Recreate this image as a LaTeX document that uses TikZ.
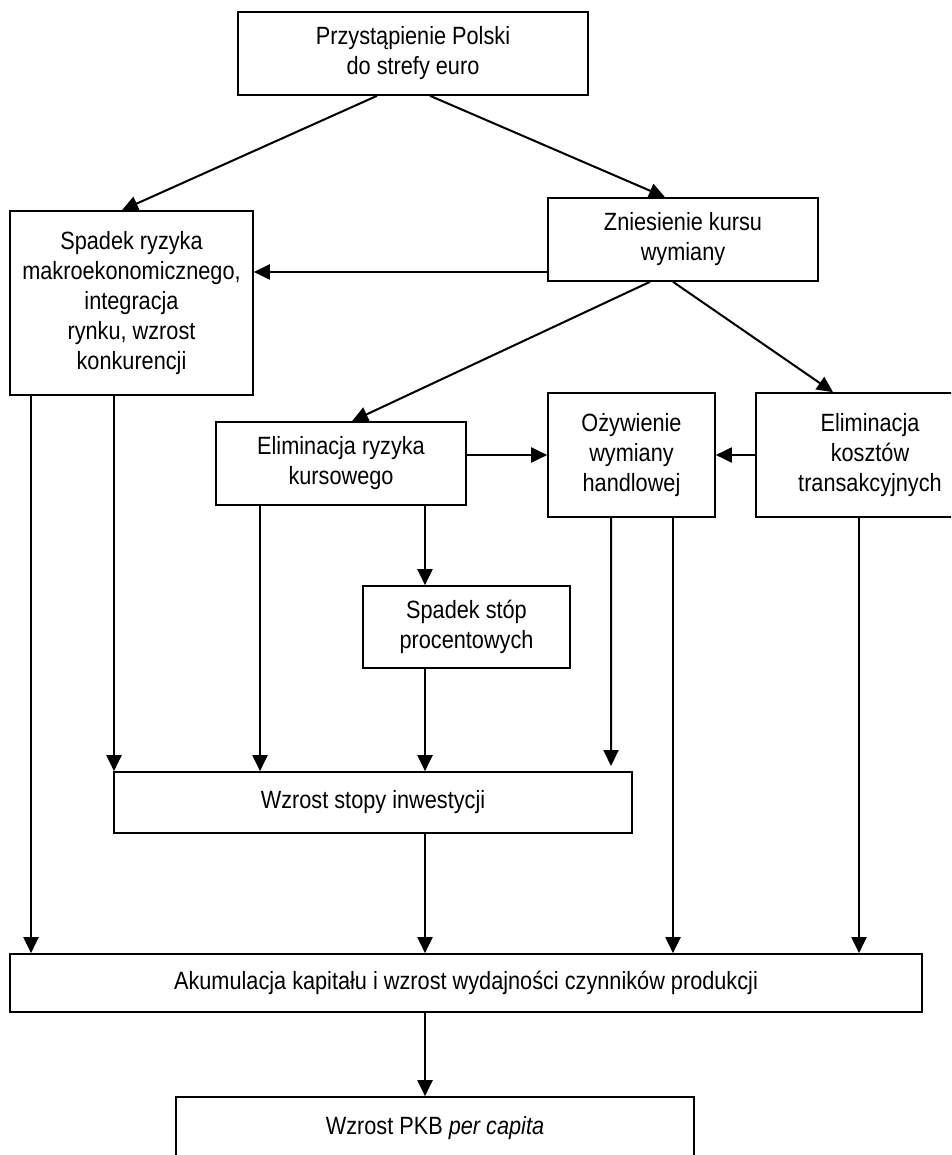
\documentclass[tikz,border=0pt]{standalone}
\usepackage{fontspec}
\setmainfont{Liberation Sans}[FakeStretch=0.87]
\usetikzlibrary{arrows.meta}
\begin{document}
\begin{tikzpicture}[x=0.02cm,y=-0.02cm,
  box/.style={draw, line width=0.95pt, align=center, inner sep=0pt,
    font=\fontsize{14.2pt}{17.1pt}\selectfont},
  arr/.style={line width=1.15pt, -{Triangle[length=0.32cm,width=0.3cm]}}]
\useasboundingbox (0,0) rectangle (951,1155);
\fill[white] (0,0) rectangle (951,1155);
\clip (0,0) rectangle (951,1155);
% nodes
\node[box, minimum width=7.0cm, minimum height=1.66cm] (T) at (413,53.5) {Przystąpienie Polski\\do strefy euro};
\node[box, minimum width=4.86cm, minimum height=3.68cm] (L) at (131.5,303) {Spadek ryzyka\\makroekonomicznego,\\integracja\\rynku, wzrost\\konkurencji};
\node[box, minimum width=5.4cm, minimum height=1.66cm] (Z) at (683,239.5) {Zniesienie kursu\\wymiany};
\node[box, minimum width=5.0cm, minimum height=1.66cm] (E1) at (341,463.5) {Eliminacja ryzyka\\kursowego};
\node[box, minimum width=3.34cm, minimum height=2.48cm] (O) at (631.5,455) {Ożywienie\\wymiany\\handlowej};
\node[box, minimum width=4.56cm, minimum height=2.48cm] (E2) at (870,455) {Eliminacja\\kosztów\\transakcyjnych};
\node[box, minimum width=4.14cm, minimum height=1.64cm] (S) at (466.5,627) {Spadek stóp\\procentowych};
\node[box, minimum width=10.36cm, minimum height=1.22cm] (W) at (373,802.5) {Wzrost stopy inwestycji};
\node[box, minimum width=18.24cm, minimum height=1.16cm] (A) at (466,983) {Akumulacja kapitału i wzrost wydajności czynników produkcji};
\node[box, minimum width=10.36cm, minimum height=1.26cm] (B) at (435,1128.5) {Wzrost PKB \textit{per capita}};
\coordinate (oend) at (611,766);
% connectors
\draw[arr] ([xshift=-0.72cm]T.south) -- ([xshift=-0.19cm]L.north);
\draw[arr] ([xshift=0.34cm]T.south) -- ([xshift=-0.36cm]Z.north);
\draw[arr] ([yshift=-0.65cm]Z.west) -- ([yshift=-0.65cm]Z.west -| L.east);
\draw[arr] ([xshift=-0.66cm]Z.south) -- ([xshift=0.22cm]E1.north);
\draw[arr] ([xshift=-0.2cm]Z.south) -- ([xshift=-0.74cm]E2.north);
\draw[arr] (O.west -| E1.east) -- (O.west);
\draw[arr] (E2.west) -- (O.east);
\draw[arr] ([xshift=-1.62cm]E1.south) -- ([xshift=-1.62cm]E1.south |- W.north);
\draw[arr] ([xshift=1.68cm]E1.south) -- ([xshift=1.68cm]E1.south |- S.north);
\draw[arr] ([xshift=-0.83cm]S.south) -- ([xshift=-0.83cm]S.south |- W.north);
\draw[arr] ([xshift=-0.35cm]L.south) -- ([xshift=-0.35cm]L.south |- W.north);
\draw[arr] ([xshift=-2.01cm]L.south) -- ([xshift=-2.01cm]L.south |- A.north);
\draw[arr] ([xshift=-0.41cm]O.south) -- (oend);
\draw[arr] ([xshift=0.83cm]O.south) -- ([xshift=0.83cm]O.south |- A.north);
\draw[arr] ([xshift=-0.22cm]E2.south) -- ([xshift=-0.22cm]E2.south |- A.north);
\draw[arr] ([xshift=1.04cm]W.south) -- ([xshift=1.04cm]W.south |- A.north);
\draw[arr] ([xshift=-0.82cm]A.south) -- ([xshift=-0.82cm]A.south |- B.north);
\end{tikzpicture}
\end{document}
